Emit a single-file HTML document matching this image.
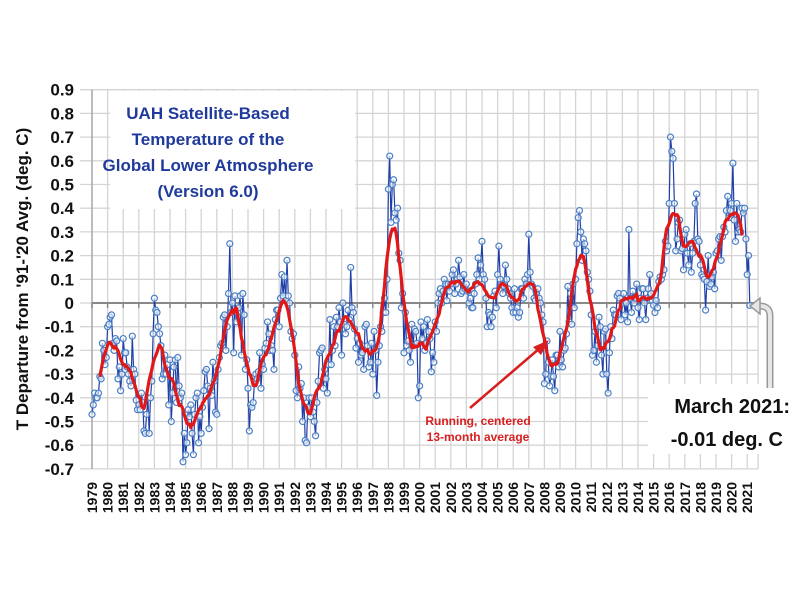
<!DOCTYPE html>
<html><head><meta charset="utf-8"><style>
body{margin:0;background:#fff;}
svg{display:block;font-family:"Liberation Sans",sans-serif;}
</style></head><body>
<svg id="chart" width="800" height="600" viewBox="0 0 800 600" xmlns="http://www.w3.org/2000/svg">
<rect width="800" height="600" fill="#fff"/>
<g id="grid"></g>
<rect x="110" y="91" width="245" height="118" fill="#fff"/>
<rect x="648" y="384" width="150" height="70" fill="#fff"/>
<g id="axes"></g>
<g id="series"></g>
<g fill="#1f3a9a" font-weight="bold" font-size="17" text-anchor="middle">
<text x="208" y="119">UAH Satellite-Based</text>
<text x="208" y="145">Temperature of the</text>
<text x="208" y="171">Global Lower Atmosphere</text>
<text x="208" y="197">(Version 6.0)</text>
</g>
<text transform="translate(28,279) rotate(-90)" text-anchor="middle" font-weight="bold" font-size="17" fill="#111">T Departure from '91-'20 Avg. (deg. C)</text>
<g fill="#d81e1e" font-weight="bold" font-size="12" text-anchor="middle">
<text x="478" y="425">Running, centered</text>
<text x="478" y="441">13-month average</text>
</g>
<g stroke="#d81e1e" stroke-width="2.5" fill="#d81e1e">
<line x1="470" y1="408" x2="540" y2="348"/>
<polygon points="549,340 533,347 541,355" stroke="none"/>
</g>
<g fill="#111" font-weight="bold" font-size="20" text-anchor="end">
<text x="790" y="413">March 2021:</text>
<text x="783" y="446">-0.01 deg. C</text>
</g>
<path d="M770 388 L770 316 Q770 306 760 306 L756 306" fill="none" stroke="#999" stroke-width="7"/>
<path d="M770 388 L770 316 Q770 306 760 306 L756 306" fill="none" stroke="#e6e6e6" stroke-width="4"/>
<polygon points="750,306 760,298 760,314" fill="#e6e6e6" stroke="#999" stroke-width="1.5"/>
</svg>
<script>
const yTicks=[0.9,0.8,0.7,0.6,0.5,0.4,0.3,0.2,0.1,0,-0.1,-0.2,-0.3,-0.4,-0.5,-0.6,-0.7];
const yTickLabels=["0.9","0.8","0.7","0.6","0.5","0.4","0.3","0.2","0.1","0","-0.1","-0.2","-0.3","-0.4","-0.5","-0.6","-0.7"];
const years=[];for(let y=1979;y<=2021;y++)years.push(y);
const startYear=1979;
const monthly=[
-0.47,-0.43,-0.38,-0.40,-0.40,-0.38,-0.31,-0.32,-0.17,-0.20,-0.26,-0.23,
-0.10,-0.09,-0.06,-0.05,-0.17,-0.20,-0.15,-0.16,-0.32,-0.27,-0.37,-0.30,
-0.15,-0.21,-0.21,-0.27,-0.30,-0.33,-0.35,-0.14,-0.28,-0.30,-0.41,-0.45,
-0.43,-0.45,-0.38,-0.42,-0.54,-0.55,-0.47,-0.40,-0.55,-0.40,-0.33,-0.13,
0.02,-0.03,-0.04,-0.10,-0.13,-0.18,-0.32,-0.30,-0.22,-0.30,-0.26,-0.43,
-0.24,-0.50,-0.38,-0.27,-0.24,-0.42,-0.23,-0.35,-0.40,-0.38,-0.67,-0.55,
-0.64,-0.59,-0.45,-0.48,-0.43,-0.55,-0.64,-0.47,-0.40,-0.38,-0.59,-0.48,
-0.55,-0.44,-0.37,-0.29,-0.28,-0.35,-0.53,-0.36,-0.39,-0.25,-0.33,-0.46,
-0.47,-0.28,-0.23,-0.18,-0.17,-0.06,-0.05,-0.20,-0.10,0.04,0.25,-0.04,
0.00,-0.21,0.03,-0.08,-0.04,-0.02,0.03,-0.22,0.04,-0.05,-0.28,-0.24,
-0.36,-0.54,-0.43,-0.44,-0.42,-0.33,-0.30,-0.32,-0.29,-0.21,-0.36,-0.26,
-0.28,-0.19,-0.17,-0.08,-0.13,-0.20,-0.18,-0.20,-0.28,-0.07,-0.03,-0.03,
-0.10,0.02,0.12,0.03,0.11,0.01,0.18,0.03,0.00,-0.12,-0.15,-0.13,
-0.22,-0.37,-0.40,-0.27,-0.36,-0.34,-0.50,-0.40,-0.58,-0.59,-0.44,-0.40,
-0.48,-0.40,-0.46,-0.50,-0.56,-0.42,-0.33,-0.21,-0.20,-0.19,-0.36,-0.28,
-0.32,-0.38,-0.26,-0.07,-0.26,-0.20,-0.10,-0.18,-0.06,-0.10,-0.02,-0.08,
-0.22,0.00,-0.09,-0.13,-0.10,-0.03,-0.07,0.15,-0.02,-0.04,-0.11,-0.19,
-0.15,-0.25,-0.17,-0.22,-0.21,-0.28,-0.10,-0.09,-0.18,-0.27,-0.25,-0.17,
-0.30,-0.12,-0.20,-0.39,-0.25,-0.18,-0.10,-0.12,-0.04,0.02,-0.04,0.10,
0.48,0.62,0.34,0.50,0.52,0.38,0.35,0.40,0.21,0.18,-0.02,0.04,
-0.21,-0.04,-0.18,-0.16,-0.20,-0.25,-0.09,-0.18,-0.11,-0.12,-0.17,-0.40,
-0.35,-0.08,-0.15,-0.10,-0.20,-0.17,-0.07,-0.12,-0.15,-0.29,-0.21,-0.25,
-0.08,-0.12,0.00,0.04,0.06,0.00,0.05,0.10,0.08,0.01,0.08,0.05,
0.08,0.12,0.14,0.04,0.08,0.10,0.18,0.11,0.04,0.05,0.12,0.06,
0.08,0.05,0.00,0.02,-0.02,-0.02,0.04,0.08,0.12,0.19,0.10,0.16,
0.26,0.12,0.10,0.02,-0.10,-0.04,-0.05,-0.10,-0.06,0.03,0.05,-0.02,
0.12,0.24,0.10,0.08,0.04,0.07,0.16,0.10,0.06,0.04,0.02,-0.02,
-0.04,0.06,-0.04,-0.02,-0.06,-0.04,0.06,0.06,0.02,0.10,0.08,0.12,
0.29,0.13,0.08,0.07,0.02,0.01,0.04,0.06,0.02,0.00,-0.05,-0.08,
-0.34,-0.30,-0.16,-0.25,-0.35,-0.31,-0.24,-0.31,-0.37,-0.22,-0.22,-0.27,
-0.12,-0.24,-0.27,-0.20,-0.19,-0.13,0.07,-0.08,0.04,-0.09,0.08,-0.02,
0.10,0.25,0.36,0.39,0.30,0.18,0.27,0.25,0.22,0.13,0.10,0.05,
-0.05,-0.22,-0.20,-0.12,-0.25,-0.18,-0.06,-0.10,-0.22,-0.30,-0.12,-0.11,
-0.30,-0.38,-0.21,-0.10,-0.15,-0.03,-0.05,-0.05,0.03,0.04,0.02,-0.07,
0.00,0.04,-0.05,0.00,-0.08,0.31,0.02,-0.04,0.05,0.00,0.02,0.08,
-0.02,-0.07,0.02,0.06,0.06,0.00,-0.07,0.02,0.06,0.12,0.04,0.01,
-0.01,-0.04,0.01,-0.02,0.09,0.11,0.10,0.12,0.14,0.26,0.22,0.24,
0.42,0.70,0.64,0.61,0.42,0.22,0.27,0.34,0.35,0.22,0.23,0.14,
0.29,0.31,0.21,0.16,0.25,0.13,0.21,0.26,0.42,0.46,0.27,0.26,
0.16,0.12,0.11,0.10,-0.03,0.09,0.20,0.07,0.08,0.11,0.13,0.06,
0.21,0.22,0.27,0.28,0.18,0.28,0.32,0.30,0.39,0.45,0.36,0.39,
0.42,0.59,0.35,0.26,0.42,0.30,0.31,0.30,0.40,0.38,0.40,0.27,
0.12,0.20,-0.01
];
const NS="http://www.w3.org/2000/svg";
const X0=92,YW=15.6,Y0=303,DY=237;
function xs(t){return X0+(t-startYear)*YW;}
function ys(v){return Y0-v*DY;}
function mk(tag,attrs,parent){const e=document.createElementNS(NS,tag);for(const k in attrs)e.setAttribute(k,attrs[k]);parent.appendChild(e);return e;}
const gridG=document.getElementById('grid'),axesG=document.getElementById('axes'),seriesG=document.getElementById('series');
const xLeft=xs(1979),xRight=xs(2021.7),yTop=ys(0.9),yBot=ys(-0.7);
years.forEach(y=>{const l=mk('line',{x1:xs(y),x2:xs(y),y1:yTop,y2:yBot,stroke:'#d4d4d4','stroke-width':1.3},gridG);

});
mk('line',{x1:xRight,x2:xRight,y1:yTop,y2:yBot,stroke:'#d4d4d4','stroke-width':1.3},gridG);
yTicks.forEach((v,i)=>{
 const l=mk('line',{x1:xLeft-12,x2:xRight,y1:ys(v),y2:ys(v),stroke:'#d4d4d4','stroke-width':1.3},gridG);
 
 
 const t=mk('text',{x:xLeft-18,y:ys(v)+6,'text-anchor':'end','font-weight':'bold','font-size':17,fill:'#111'},axesG);
 t.textContent=yTickLabels[i];
 
 
});
mk('line',{x1:xLeft,x2:xLeft,y1:yTop,y2:yBot,stroke:'#aaa','stroke-width':1.5},axesG);
const zl=mk('line',{x1:xLeft,x2:xRight,y1:ys(0),y2:ys(0),stroke:'#888','stroke-width':2},axesG);


years.forEach(y=>{
 mk('line',{x1:xs(y),x2:xs(y),y1:ys(0),y2:ys(0)+5,stroke:'#888','stroke-width':1.5},axesG);
 const t=mk('text',{transform:`translate(${xs(y)+5},482) rotate(-90)`,'text-anchor':'end','font-weight':'bold','font-size':14,fill:'#111'},axesG);
 t.textContent=String(y);
 
 
});
const pts=monthly.map((v,i)=>[xs(startYear+i/12),ys(v)]);
const ln=mk('polyline',{points:pts.map(p=>p.join(',')).join(' '),fill:'none',stroke:'#1f3fa8','stroke-width':1.2},seriesG);


pts.forEach(p=>{const c=mk('circle',{cx:p[0],cy:p[1],r:3,fill:'#fff','fill-opacity':0.6,stroke:'#4a7fc4','stroke-width':1.2},seriesG);

});
const ra=[];
for(let i=6;i<monthly.length-6;i++){let s=0;for(let j=i-6;j<=i+6;j++)s+=monthly[j];ra.push([xs(startYear+i/12),ys(s/13)]);}
const rl=mk('polyline',{points:ra.map(p=>p.join(',')).join(' '),fill:'none',stroke:'#e01818','stroke-width':3.2,'stroke-linejoin':'round'},seriesG);


</script>
</body></html>
